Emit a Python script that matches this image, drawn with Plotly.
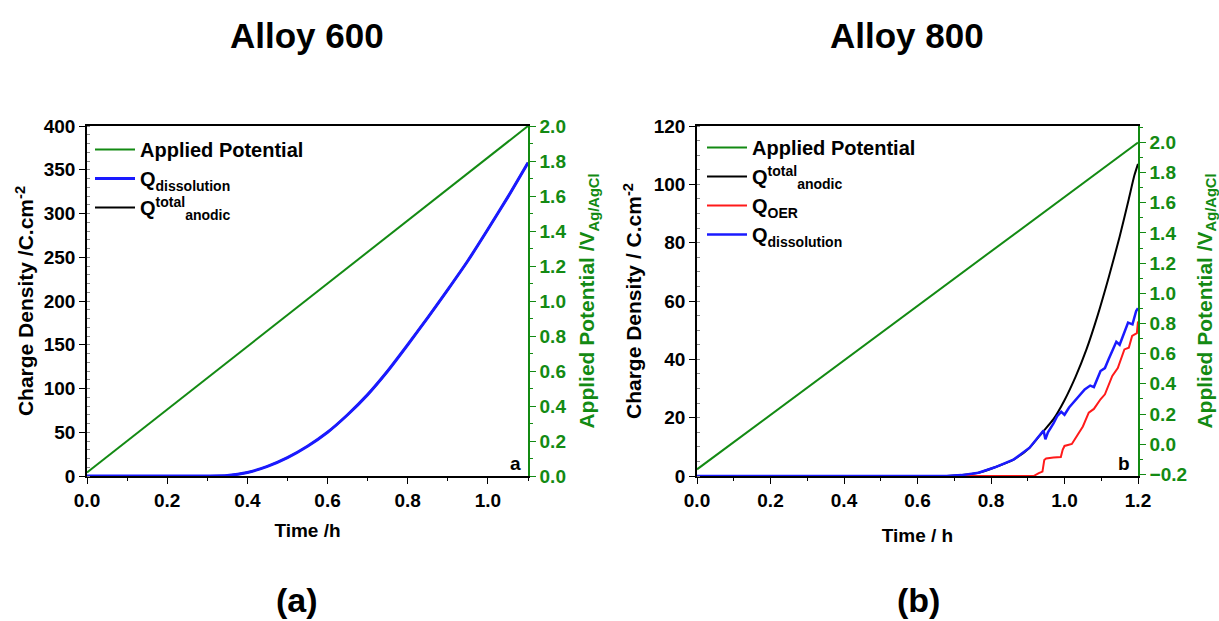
import plotly.graph_objects as go

# ---------------- Data ----------------
# Panel (a) Alloy 600
t_pot_a = [0.0, 1.1]
v_pot_a = [0.02, 2.0]
t_a = [0, 0.1, 0.2, 0.3, 0.35, 0.4, 0.45, 0.5, 0.55, 0.6, 0.65, 0.7,
       0.75, 0.8, 0.85, 0.9, 0.95, 1.0, 1.05, 1.1]
q_diss_a = [0, 0, 0, 0, 0.5, 4, 11, 21, 34, 50, 70, 93,
            120, 150, 181, 213, 246, 282, 319, 358]
q_total_a = q_diss_a

# Panel (b) Alloy 800
t_pot_b = [0.0, 1.2]
v_pot_b = [-0.167, 2.0]
t_diss_b = [0, 0.68, 0.72, 0.766, 0.809, 0.8625, 0.905, 0.9375, 0.943, 0.948,
            0.955, 0.97, 0.98, 0.991, 1.0, 1.0125, 1.03, 1.04, 1.055, 1.07,
            1.08, 1.098, 1.11, 1.12, 1.141, 1.15, 1.16, 1.173, 1.185, 1.195, 1.2]
q_diss_b = [0, 0, 0.3, 1.1, 2.9, 5.7, 9.7, 14.9, 15.6, 12.6,
            15.0, 18.0, 20.5, 22.0, 21.0, 23.5, 26.0, 27.5, 29.7, 31.0,
            30.5, 36.0, 37.0, 40.0, 46.0, 45.0, 48.5, 52.6, 52.0, 56.6, 57.5]
t_total_b = [0, 0.68, 0.72, 0.766, 0.809, 0.8625, 0.905, 0.94, 0.97, 1.0,
             1.03, 1.06, 1.09, 1.12, 1.15, 1.175, 1.19, 1.2]
q_total_b = [0, 0, 0.3, 1.1, 2.9, 5.7, 9.7, 15.0, 19.5, 26.0,
             34.0, 43.5, 55.0, 68.0, 82.0, 95.0, 103.0, 107.0]
t_oer_b = [0, 0.78, 0.916, 0.93, 0.94, 0.945, 0.95, 0.97, 0.99, 0.995,
           1.0, 1.02, 1.034, 1.05, 1.066, 1.08, 1.098, 1.11, 1.13, 1.145,
           1.163, 1.175, 1.184, 1.197, 1.2]
q_oer_b = [0, 0, 0, 1.0, 1.5, 5.5, 6.0, 6.3, 6.5, 9.0,
           10.3, 11.0, 13.7, 17.0, 21.7, 23.0, 26.3, 28.0, 34.3, 37.0,
           43.4, 44.0, 48.0, 49.0, 53.0]

x_ticks_a = [0.0, 0.2, 0.4, 0.6, 0.8, 1.0]
x_ticks_b = [0.0, 0.2, 0.4, 0.6, 0.8, 1.0, 1.2]

GREEN = "#138a13"
BLUE = "#1a1aff"
RED = "#ff1a1a"
BLACK = "#000000"
FONT = "Liberation Sans"

fig = go.Figure()

# Panel a traces
fig.add_trace(go.Scatter(x=t_a, y=q_total_a, mode="lines", name="Q<sup>total</sup><sub>anodic</sub>",
                         line=dict(color=BLACK, width=2, shape="spline", smoothing=0.6),
                         xaxis="x", yaxis="y", legend="legend", legendrank=3))
fig.add_trace(go.Scatter(x=t_a, y=q_diss_a, mode="lines", name="Q<sub>dissolution</sub>",
                         line=dict(color=BLUE, width=3, shape="spline", smoothing=0.6),
                         xaxis="x", yaxis="y", legend="legend", legendrank=2))
fig.add_trace(go.Scatter(x=t_pot_a, y=v_pot_a, mode="lines", name="Applied Potential",
                         line=dict(color=GREEN, width=2), xaxis="x", yaxis="y2",
                         legend="legend", legendrank=1))

# Panel b traces
fig.add_trace(go.Scatter(x=t_total_b, y=q_total_b, mode="lines", name="Q<sup>total</sup><sub>anodic</sub>",
                         line=dict(color=BLACK, width=2, shape="spline", smoothing=0.6),
                         xaxis="x2", yaxis="y3", legend="legend2", legendrank=2))
fig.add_trace(go.Scatter(x=t_oer_b, y=q_oer_b, mode="lines", name="Q<sub>OER</sub>",
                         line=dict(color=RED, width=2), xaxis="x2", yaxis="y3",
                         legend="legend2", legendrank=3))
fig.add_trace(go.Scatter(x=t_diss_b, y=q_diss_b, mode="lines", name="Q<sub>dissolution</sub>",
                         line=dict(color=BLUE, width=2.5), xaxis="x2", yaxis="y3",
                         legend="legend2", legendrank=4))
fig.add_trace(go.Scatter(x=t_pot_b, y=v_pot_b, mode="lines", name="Applied Potential",
                         line=dict(color=GREEN, width=2), xaxis="x2", yaxis="y4",
                         legend="legend2", legendrank=1))

W, H = 1219, 621
def px(x):
    return x / W
def py(y):
    return 1 - y / H

ydom = [py(476), py(126)]
tickfont = dict(family=FONT, size=19, color=BLACK, weight="bold")
gtickfont = dict(family=FONT, size=19, color=GREEN, weight="bold")
xtitlefont = dict(family=FONT, size=19, color=BLACK, weight="bold")
titlefont = dict(family=FONT, size=21, color=BLACK, weight="bold")
gtitlefont = dict(family=FONT, size=21, color=GREEN, weight="bold")

def xax(domain, rng, ticks, title, standoff):
    return dict(domain=domain, range=rng, tickvals=ticks, ticktext=[f"{v:.1f}" for v in ticks],
                showline=True, linecolor=BLACK, linewidth=1.5, mirror=True,
                ticks="outside", ticklen=6, tickcolor=BLACK,
                minor=dict(dtick=0.1, ticks="outside", ticklen=3, tickcolor=BLACK),
                showgrid=False, zeroline=False, tickfont=tickfont,
                title=dict(text=title, font=xtitlefont, standoff=standoff),
                automargin=False)

fig.update_layout(
    width=W, height=H,
    margin=dict(l=0, r=0, t=0, b=0),
    paper_bgcolor="white", plot_bgcolor="white",
    xaxis=xax([px(87), px(528)], [0, 1.1], x_ticks_a, "Time /h", 14),
    xaxis2=xax([px(697), px(1138)], [0, 1.2], x_ticks_b, "Time / h", 19),
    yaxis=dict(domain=ydom, range=[0, 400], dtick=50, anchor="x",
               showline=True, linecolor=BLACK, linewidth=1.5,
               ticks="outside", ticklen=6, tickcolor=BLACK,
               minor=dict(dtick=10, ticks="inside", ticklen=3, tickcolor="#888"),
               showgrid=False, zeroline=False, tickfont=tickfont,
               title=dict(text="Charge Density /C.cm<sup>-2</sup>", font=titlefont, standoff=4),
               automargin=False),
    yaxis2=dict(overlaying="y", side="right", anchor="x", range=[0, 2.0], dtick=0.2,
                tickformat=".1f", showline=True, linecolor=GREEN, linewidth=1.5,
                ticks="outside", ticklen=6, tickcolor=GREEN,
                minor=dict(dtick=0.1, ticks="outside", ticklen=3, tickcolor=GREEN),
                showgrid=False, zeroline=False, tickfont=gtickfont,
                title=dict(text="Applied Potential /V<sub>Ag/AgCl</sub>", font=gtitlefont, standoff=14),
                automargin=False),
    yaxis3=dict(domain=ydom, range=[0, 120], dtick=20, anchor="x2",
                showline=True, linecolor=BLACK, linewidth=1.5,
                ticks="outside", ticklen=6, tickcolor=BLACK,
                minor=dict(dtick=5, ticks="inside", ticklen=3, tickcolor="#888"),
                showgrid=False, zeroline=False, tickfont=tickfont,
                title=dict(text="Charge Density / C.cm<sup>-2</sup>", font=titlefont, standoff=6),
                automargin=False),
    yaxis4=dict(overlaying="y3", side="right", anchor="x2", range=[-0.211, 2.109],
                tickvals=[-0.2, 0.0, 0.2, 0.4, 0.6, 0.8, 1.0, 1.2, 1.4, 1.6, 1.8, 2.0],
                tickformat=".1f", showline=True, linecolor=GREEN, linewidth=1.5,
                ticks="outside", ticklen=6, tickcolor=GREEN,
                minor=dict(dtick=0.1, ticks="outside", ticklen=3, tickcolor=GREEN),
                showgrid=False, zeroline=False, tickfont=gtickfont,
                title=dict(text="Applied Potential /V<sub>Ag/AgCl</sub>", font=gtitlefont, standoff=11),
                automargin=False),
    legend=dict(x=px(90), y=py(130), xanchor="left", yanchor="top",
                bgcolor="rgba(0,0,0,0)", borderwidth=0,
                font=dict(family=FONT, size=20, color=BLACK, weight="bold"),
                tracegroupgap=0, itemwidth=40),
    legend2=dict(x=px(702), y=py(128), xanchor="left", yanchor="top",
                 bgcolor="rgba(0,0,0,0)", borderwidth=0,
                 font=dict(family=FONT, size=20, color=BLACK, weight="bold"),
                 tracegroupgap=0, itemwidth=40),
    showlegend=True,
)

ann_font_big = dict(family=FONT, size=35, color=BLACK, weight="bold")
ann_font_lbl = dict(family=FONT, size=34, color=BLACK, weight="bold")
small = dict(family=FONT, size=19, color=BLACK, weight="bold")
for text, x, y, f in [("Alloy 600", 307, 35, ann_font_big),
                      ("Alloy 800", 907, 35, ann_font_big),
                      ("(a)", 297, 600, ann_font_lbl),
                      ("(b)", 918, 600, ann_font_lbl),
                      ("a", 515, 463, small),
                      ("b", 1124, 463, small)]:
    fig.add_annotation(text=text, x=px(x), y=py(y), xref="paper", yref="paper",
                       xanchor="center", yanchor="middle", showarrow=False, font=f)

fig.write_html("out.html", config={"displayModeBar": False},
               post_script="document.body.style.margin='0';")
